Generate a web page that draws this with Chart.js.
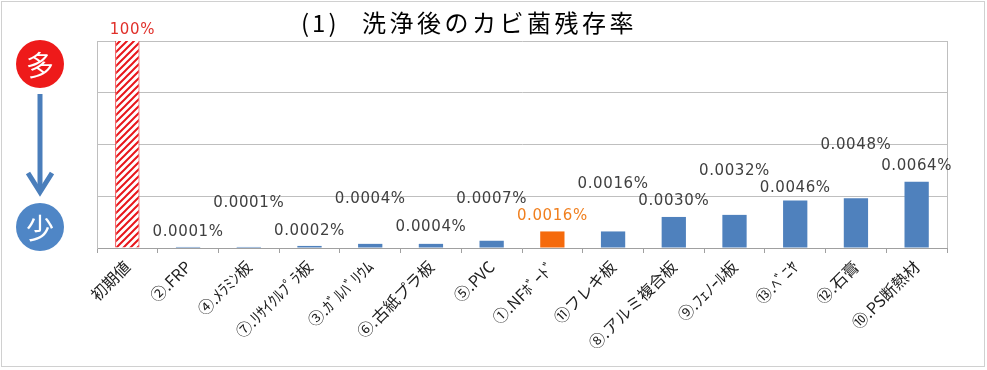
<!DOCTYPE html>
<html>
<head>
<meta charset="utf-8">
<script src="https://cdn.jsdelivr.net/npm/chart.js@4"></script>
<style>
    body { margin: 0; background: #fff; }
    #wrap { width: 987px; height: 370px; position: relative; }
</style>
</head>
<body>
<div id="wrap"><canvas id="chart"></canvas></div>
<script>
const TITLE_NO = "(1)";
const TITLE = "洗浄後のカビ菌残存率";
const MATERIALS = [
    "初期値", "②.FRP", "④.ﾒﾗﾐﾝ板", "⑦.ﾘｻｲｸﾙﾌﾟﾗ板", "③.ｶﾞﾙﾊﾞﾘｳﾑ", "⑥.古紙プラ板", "⑤.PVC",
    "①.NFﾎﾞｰﾄﾞ", "⑪フレキ板", "⑧.アルミ複合板", "⑨.ﾌｪﾉｰﾙ板", "⑬.ﾍﾞﾆﾔ", "⑫.石膏", "⑩.PS断熱材"
];
// residual rate in %
const RESIDUAL = [100, 0.0001, 0.0001, 0.0002, 0.0004, 0.0004, 0.0007, 0.0016, 0.0016, 0.0030, 0.0032, 0.0046, 0.0048, 0.0064];
const Y_MAX = 0.02;
const Y_STEP = 0.005;
const INITIAL = "初期値";
const HIGHLIGHT = "①.NFﾎﾞｰﾄﾞ";

// how far each value label sits above its bar (px)
const LABEL_LIFT = [11, 15, 44, 15, 45, 17, 42, 15, 47, 16, 44, 12, 53, 16];

const FONT = '"Noto Sans CJK JP", "Noto Sans", sans-serif';
const BLUE = '#4F81BD';
const ORANGE = '#F56A0C';
const RED = '#E8161B';

function hatch() {
    let s = 7;
    let c = document.createElement('canvas');
    c.width = s; c.height = s;
    let g = c.getContext('2d');
    g.fillStyle = '#fff';
    g.fillRect(0, 0, s, s);
    g.strokeStyle = RED;
    g.lineWidth = 2;
    g.beginPath();
    g.moveTo(-1, s + 1); g.lineTo(s + 1, -1);
    g.moveTo(-s - 1, s + 1); g.lineTo(1, -1);
    g.moveTo(-1, 2 * s + 1); g.lineTo(2 * s + 1, -1);
    g.stroke();
    return g.createPattern(c, 'repeat');
}

const fills = MATERIALS.map(m => m === INITIAL ? hatch() : m === HIGHLIGHT ? ORANGE : BLUE);
const borders = MATERIALS.map(m => m === INITIAL ? RED : 'rgba(0,0,0,0)');

const decor = {
    id: 'decor',
    beforeDraw(chart) {
        let ctx = chart.ctx;
        ctx.save();
        ctx.fillStyle = '#fff';
        ctx.fillRect(0, 0, chart.width, chart.height);
        ctx.strokeStyle = '#D0D0D0';
        ctx.lineWidth = 1;
        ctx.strokeRect(1.5, 1.5, 983, 365);
        ctx.restore();
    },
    afterDraw(chart) {
        let ctx = chart.ctx, a = chart.chartArea;
        ctx.save();
        // plot frame on the right
        ctx.strokeStyle = '#BFBFBF';
        ctx.lineWidth = 1;
        ctx.beginPath();
        ctx.moveTo(Math.round(a.right) + 0.5, a.top);
        ctx.lineTo(Math.round(a.right) + 0.5, a.bottom);
        ctx.stroke();

        // title
        ctx.fillStyle = '#000';
        ctx.font = '24px ' + FONT;
        ctx.textAlign = 'left';
        ctx.textBaseline = 'middle';
        ctx.letterSpacing = '3px';
        ctx.fillText(TITLE_NO, 301, 23);
        ctx.letterSpacing = '3.5px';
        ctx.fillText(TITLE, 362, 23);
        ctx.letterSpacing = '0px';
        ctx.textAlign = 'center';

        // many -> few indicator
        ctx.strokeStyle = '#4A7EBB';
        ctx.lineWidth = 5;
        ctx.beginPath();
        ctx.moveTo(40, 94); ctx.lineTo(40, 192);
        ctx.stroke();
        ctx.beginPath();
        ctx.lineJoin = 'miter';
        ctx.moveTo(28, 173); ctx.lineTo(40, 192); ctx.lineTo(52, 173);
        ctx.stroke();
        ctx.fillStyle = '#EE1A1A';
        ctx.beginPath(); ctx.arc(40, 64, 24, 0, Math.PI * 2); ctx.fill();
        ctx.fillStyle = '#4F86C6';
        ctx.beginPath(); ctx.arc(40, 227, 24, 0, Math.PI * 2); ctx.fill();
        ctx.fillStyle = '#fff';
        ctx.font = '28px ' + FONT;
        ctx.fillText('多', 40, 65);
        ctx.fillText('少', 40, 228);

        // value labels
        let meta = chart.getDatasetMeta(0);
        ctx.font = '15px "DejaVu Sans", sans-serif';
        ctx.letterSpacing = '0.6px';
        meta.data.forEach((bar, i) => {
            let v = RESIDUAL[i];
            let txt = v >= 1 ? v + '%' : v.toFixed(4) + '%';
            let top = Math.max(bar.y, a.top);
            ctx.fillStyle = MATERIALS[i] === INITIAL ? '#E0302A' : MATERIALS[i] === HIGHLIGHT ? '#F07F1E' : '#404040';
            let dx = MATERIALS[i] === INITIAL ? 5 : 0;
            ctx.fillText(txt, bar.x + dx, top - LABEL_LIFT[i]);
        });
        ctx.restore();
    }
};

new Chart(document.getElementById('chart'), {
    type: 'bar',
    data: {
        labels: MATERIALS,
        datasets: [{
            data: RESIDUAL,
            backgroundColor: fills,
            borderColor: borders,
            borderWidth: MATERIALS.map(m => m === INITIAL ? 1 : 0),
            barPercentage: 0.4,
            categoryPercentage: 1
        }]
    },
    options: {
        responsive: true,
        maintainAspectRatio: false,
        animation: false,
        layout: { padding: { left: 0, top: 41, right: 40, bottom: 0 } },
        plugins: { legend: { display: false }, tooltip: { enabled: false } },
        scales: {
            x: {
                afterFit: s => { s.height = 122; },
                grid: { drawOnChartArea: false, drawTicks: true, tickLength: 5, color: '#A0A0A0' },
                border: { color: '#A0A0A0' },
                ticks: {
                    minRotation: 45, maxRotation: 45, autoSkip: false,
                    color: '#202020', font: { family: FONT, size: 16 }, padding: 4
                }
            },
            y: {
                min: 0, max: Y_MAX,
                afterFit: s => { s.width = 97; },
                ticks: { stepSize: Y_STEP, display: false },
                grid: { color: '#BFBFBF', drawTicks: false },
                border: { color: '#BFBFBF' }
            }
        }
    },
    plugins: [decor]
});
</script>
</body>
</html>
